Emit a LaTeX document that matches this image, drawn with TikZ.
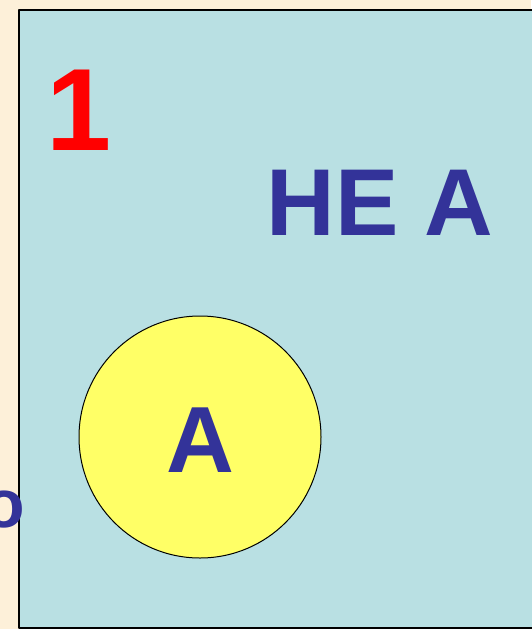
\documentclass[tikz,border=0pt]{standalone}
\usepackage{fontspec}
\setmainfont{Liberation Sans}
\definecolor{parchment}{HTML}{FDF0D9}
\definecolor{setblue}{HTML}{B9E0E3}
\definecolor{inkblue}{HTML}{333399}
\definecolor{setyellow}{HTML}{FFFF66}
\tikzset{
  bigtext/.style={font=\bfseries\fontsize{#1}{#1}\selectfont, inner sep=0pt, anchor=base},
}
\begin{document}
\begin{tikzpicture}[x=1pt, y=-1pt, line join=round]
	% page
	\fill[parchment] (0,0) rectangle (531,629);
	\useasboundingbox (0,0) rectangle (531,629);
	% universal set
	\filldraw[fill=setblue, draw=black, line width=2pt] (19,10) rectangle (540,628);
	% set A
	\filldraw[fill=setyellow, draw=black, line width=1pt] (200,437) circle (121);
	
	\node[bigtext=117, text=red] (one) at (79,150) {1};
	\node[bigtext=95, text=inkblue] (notA) at (380,235) {НЕ А};
	\node[bigtext=94, text=inkblue] (A) at (200,472) {А};
	\node[bigtext=68, text=inkblue] (o) at (4,527) {о};
\end{tikzpicture}
\end{document}
